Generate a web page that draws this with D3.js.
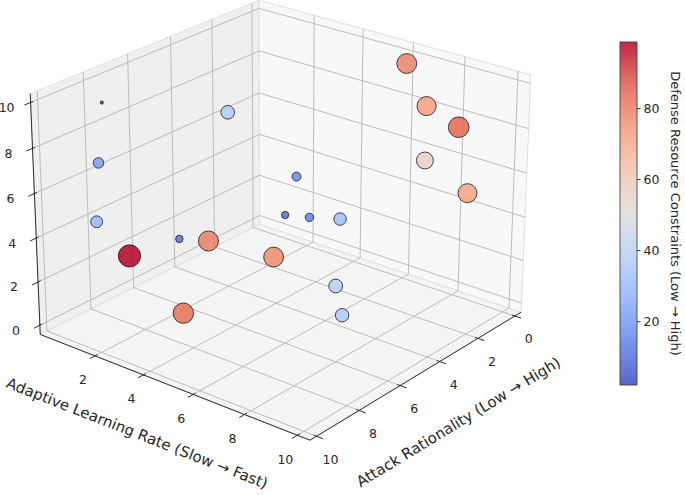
<!DOCTYPE html>
<html><head><meta charset="utf-8">
<script src="https://cdn.jsdelivr.net/npm/d3@7"></script>
<style>
  body { margin: 0; background: #fff; }
  text { font-family: "DejaVu Sans", sans-serif; fill: #262626; }
</style>
</head><body>
<svg id="chart" width="685" height="495"></svg>
<script>
// values
const attackRationality = [8.70, 4.41, 8.86, 8.97, 8.30, 7.00, 5.34, 4.36, 8.00, 4.31, 4.20, 4.51, 3.37, 4.78, 5.06, 0.50, 1.62, 1.64, 2.23, 1.07];
const adaptiveRate      = [1.08, 2.38, 1.02, 0.97, 1.68, 2.59, 2.33, 4.19, 3.60, 5.07, 4.53, 5.75, 6.06, 7.02, 7.50, 6.39, 8.01, 9.25, 8.44, 9.25];
const zValue            = [9.80, 8.00, 7.20, 4.60, 3.00, 3.50, 2.50, 2.00, 1.00, 6.00, 4.00, 4.50, 4.00, 2.00, 1.00, 9.90, 9.00, 8.50, 7.00, 5.30];
const defense           = [2.0, 37, 22, 28, 98.6, 11, 80, 78, 83, 16, 10.5, 14, 31, 38, 36, 79, 73, 85, 57, 72];

const attackTicks = [0, 2, 4, 6, 8, 10];
const adaptiveTicks = [2, 4, 6, 8, 10];
const zTicks = [0, 2, 4, 6, 8, 10];
const cbarTicks = [20, 40, 60, 80];

const coolwarm = ['#3b4cc0', '#6282ea', '#8db0fe', '#b8d0f9', '#dddddd', '#f5c4ad', '#f49a7b', '#de604d', '#b40426'];

// camera (perspective, like mpl's default 3d view)
const view = { elev: 23.95, azim: 39.07, dist: 15.21, scale: 174.35, cx: 282.77, cy: 206.05, zAspect: 0.75 };

const er = view.elev * Math.PI / 180, ar = view.azim * Math.PI / 180;
const w = [Math.cos(er) * Math.cos(ar), Math.cos(er) * Math.sin(ar), Math.sin(er)];
const u = [-Math.sin(ar), Math.cos(ar), 0];
const v = [w[1] * u[2] - w[2] * u[1], w[2] * u[0] - w[0] * u[2], w[0] * u[1] - w[1] * u[0]];
const eye = w.map(c => c * view.dist);
const dot = (a, b) => a[0] * b[0] + a[1] * b[1] + a[2] * b[2];

// normalized box coords [-1,1]
const xN = d3.scaleLinear().domain([-0.35, 10.30]).range([-1, 1]);
const yN = d3.scaleLinear().domain([-0.33, 10.47]).range([-1, 1]);
const zN = d3.scaleLinear().domain([-0.43, 10.38]).range([-1, 1]);

function project(X, Y, Z) {
  const r = [X - eye[0], Y - eye[1], Z * view.zAspect - eye[2]];
  const depth = -dot(w, r);
  const f = view.dist / depth;
  return [view.cx + view.scale * dot(u, r) * f, view.cy - view.scale * dot(v, r) * f, depth];
}

const svg = d3.select('#chart');
const g = svg.append('g');

// panes
const panes = [
  { pts: [[-1, -1, -1], [1, -1, -1], [1, 1, -1], [-1, 1, -1]], fill: '#f4f4f4' },
  { pts: [[-1, -1, -1], [1, -1, -1], [1, -1, 1], [-1, -1, 1]], fill: '#efefef' },
  { pts: [[-1, -1, -1], [-1, 1, -1], [-1, 1, 1], [-1, -1, 1]], fill: '#f8f8f8' }
];
g.selectAll('polygon.pane').data(panes).join('polygon')
  .attr('class', 'pane')
  .attr('points', d => d.pts.map(p => project(...p).slice(0, 2).join(',')).join(' '))
  .attr('fill', d => d.fill)
  .attr('stroke', '#e0e0e0')
  .attr('stroke-width', 1);

// grid lines
const grid = [];
attackTicks.forEach(t => {
  grid.push([[xN(t), -1, -1], [xN(t), 1, -1]]);
  grid.push([[xN(t), -1, -1], [xN(t), -1, 1]]);
});
adaptiveTicks.forEach(t => {
  grid.push([[-1, yN(t), -1], [1, yN(t), -1]]);
  grid.push([[-1, yN(t), -1], [-1, yN(t), 1]]);
});
zTicks.forEach(t => {
  grid.push([[-1, -1, zN(t)], [1, -1, zN(t)]]);
  grid.push([[-1, -1, zN(t)], [-1, 1, zN(t)]]);
});
const line2 = d => { const a = project(...d[0]), b = project(...d[1]); return `M${a[0]},${a[1]}L${b[0]},${b[1]}`; };
g.selectAll('path.grid').data(grid).join('path')
  .attr('class', 'grid')
  .attr('d', line2)
  .attr('stroke', '#bdbdbd')
  .attr('stroke-width', 1)
  .attr('fill', 'none');

// axis lines
const axes = [
  [[1, -1, -1], [1, 1, -1]],
  [[-1, 1, -1], [1, 1, -1]],
  [[1, -1, -1], [1, -1, 1]]
];
g.selectAll('path.axis').data(axes).join('path')
  .attr('class', 'axis')
  .attr('d', line2)
  .attr('stroke', '#2a2a2a')
  .attr('stroke-width', 1)
  .attr('fill', 'none');

// ticks + labels
const tickSegs = [];
const tickLabels = [];
adaptiveTicks.forEach(t => {
  tickSegs.push([[1 - 0.02, yN(t), -1], [1 + 0.045, yN(t), -1]]);
  const p = project(1, yN(t), -1);
  tickLabels.push({ x: p[0] - 12, y: p[1] + 24, text: t });
});
attackTicks.forEach(t => {
  tickSegs.push([[xN(t), 1 - 0.02, -1], [xN(t), 1 + 0.045, -1]]);
  const p = project(xN(t), 1, -1);
  tickLabels.push({ x: p[0] + 14, y: p[1] + 23, text: t });
});
zTicks.forEach(t => {
  tickSegs.push([[1 - 0.02, -1, zN(t)], [1 + 0.05, -1, zN(t)]]);
  const p = project(1, -1, zN(t));
  tickLabels.push({ x: p[0] - 24, y: p[1] + 5, text: t });
});
g.selectAll('path.tick').data(tickSegs).join('path')
  .attr('class', 'tick')
  .attr('d', line2)
  .attr('stroke', '#2a2a2a')
  .attr('stroke-width', 1);
g.selectAll('text.tl').data(tickLabels).join('text')
  .attr('class', 'tl')
  .attr('x', d => d.x).attr('y', d => d.y)
  .attr('text-anchor', 'middle')
  .attr('dominant-baseline', 'central')
  .style('font-size', '12.5px')
  .text(d => d.text);

// axis titles
function edgeLabel(a, b, dx, dy, text) {
  const p = project(...a), q = project(...b);
  const ang = Math.atan2(q[1] - p[1], q[0] - p[0]) * 180 / Math.PI;
  const mx = (p[0] + q[0]) / 2 + dx, my = (p[1] + q[1]) / 2 + dy;
  g.append('text')
    .attr('transform', `translate(${mx},${my}) rotate(${ang})`)
    .attr('text-anchor', 'middle')
    .attr('dominant-baseline', 'central')
    .style('font-size', '15px')
    .text(text);
}
edgeLabel([1, -1, -1], [1, 1, -1], -38, 46, 'Adaptive Learning Rate (Slow \u2192 Fast)');
edgeLabel([1, 1, -1], [-1, 1, -1], 43, 46, 'Attack Rationality (Low \u2192 High)');

// scatter
const vmin = d3.min(defense), vmax = d3.max(defense);
const color = d3.scaleLinear()
  .domain(coolwarm.map((c, i) => vmin + (vmax - vmin) * i / (coolwarm.length - 1)))
  .range(coolwarm)
  .interpolate(d3.interpolateRgb);
const radius = d3.scaleSqrt().domain([0, vmax]).range([0, 1.12 * Math.sqrt(vmax)]);

const points = defense.map((d, i) => {
  const p = project(xN(attackRationality[i]), yN(adaptiveRate[i]), zN(zValue[i]));
  return { x: p[0], y: p[1], depth: p[2], val: d };
}).sort((a, b) => b.depth - a.depth);

g.selectAll('circle.pt').data(points).join('circle')
  .attr('class', 'pt')
  .attr('cx', d => d.x).attr('cy', d => d.y)
  .attr('r', d => radius(d.val))
  .attr('fill', d => color(d.val))
  .attr('fill-opacity', 0.85)
  .attr('stroke', '#1a1a1a')
  .attr('stroke-opacity', 0.8)
  .attr('stroke-width', 1);

// colorbar
const cb = { x: 620, w: 17, top: 42, bottom: 385 };
const cbScale = d3.scaleLinear().domain([vmin, vmax]).range([cb.bottom, cb.top]);
const grad = svg.append('defs').append('linearGradient')
  .attr('id', 'cbgrad').attr('x1', 0).attr('y1', 1).attr('x2', 0).attr('y2', 0);
grad.selectAll('stop').data(d3.range(0, 1.0001, 0.05)).join('stop')
  .attr('offset', d => d)
  .attr('stop-color', d => color(vmin + d * (vmax - vmin)));
svg.append('rect')
  .attr('x', cb.x).attr('y', cb.top)
  .attr('width', cb.w).attr('height', cb.bottom - cb.top)
  .attr('fill', 'url(#cbgrad)')
  .attr('fill-opacity', 0.85);
svg.append('rect')
  .attr('x', cb.x).attr('y', cb.top)
  .attr('width', cb.w).attr('height', cb.bottom - cb.top)
  .attr('fill', 'none')
  .attr('stroke', '#333').attr('stroke-width', 0.8);
const cbAxis = svg.append('g')
  .attr('transform', `translate(${cb.x + cb.w},0)`)
  .call(d3.axisRight(cbScale).tickValues(cbarTicks).tickSize(3.5).tickPadding(3));
cbAxis.select('.domain').remove();
cbAxis.selectAll('line').attr('stroke', '#333');
cbAxis.selectAll('text').style('font-size', '12.5px').style('font-family', '"DejaVu Sans", sans-serif').attr('fill', '#262626');
svg.append('text')
  .attr('transform', `translate(675,${(cb.top + cb.bottom) / 2}) rotate(90)`)
  .attr('text-anchor', 'middle')
  .attr('dominant-baseline', 'central')
  .style('font-size', '13px')
  .text('Defense Resource Constraints (Low \u2192 High)');
</script>
</body></html>
